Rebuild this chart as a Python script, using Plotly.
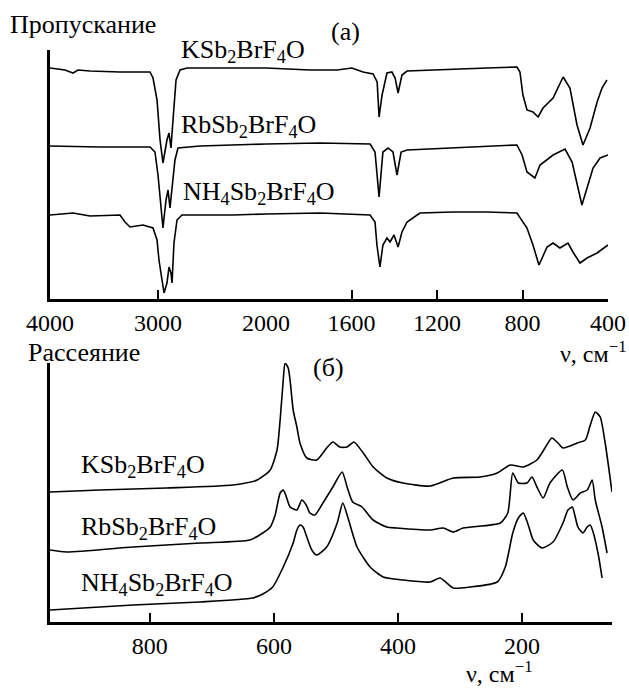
import plotly.graph_objects as go

# ---------- IR (transmission) spectra, panel (a) ----------
ir_k_wn = [4000, 3861, 3787, 3741, 3630, 3352, 3074, 3046, 3009, 2981, 2954, 2917, 2898, 2880, 2861, 2833, 2796, 2731, 2333, 2000,
           1794, 1668, 1598, 1546, 1499, 1480, 1471, 1457, 1434, 1411, 1396, 1382, 1364, 1340, 1125, 966, 826, 812, 798, 779,
           751, 727, 704, 657, 610, 578, 545, 517, 484, 451, 428, 405]
ir_k_t = [231, 229, 226, 229, 228, 227, 227, 221, 199, 159, 136, 159, 166, 151, 179, 219, 229, 231, 231, 231,
          229, 229, 231, 227, 225, 217, 182, 204, 226, 227, 221, 206, 224, 228, 230, 231, 232, 227, 204, 189,
          187, 182, 191, 201, 222, 211, 174, 154, 171, 197, 211, 219]

ir_rb_wn = [4000, 3537, 3074, 3028, 3000, 2972, 2954, 2926, 2907, 2889, 2870, 2843, 2815, 2611, 2000,
            1747, 1513, 1490, 1471, 1453, 1429, 1406, 1387, 1368, 1340, 1125, 966, 826, 802, 779, 742, 718,
            657, 601, 568, 545, 522, 498, 470, 437, 400]
ir_rb_t = [153, 152, 152, 147, 124, 94, 71, 99, 109, 91, 109, 139, 151, 153, 155,
           156, 155, 147, 102, 147, 151, 147, 124, 147, 149, 151, 152, 154, 144, 127, 121, 134,
           144, 150, 137, 114, 94, 111, 131, 141, 144]

ir_nh4_wn = [4000, 3787, 3630, 3352, 3306, 3259, 3139, 3046, 3009, 2991, 2963, 2944, 2917, 2898, 2880, 2870, 2852, 2824, 2778, 2306, 2000,
             1747, 1513, 1490, 1481, 1467, 1453, 1434, 1420, 1401, 1382, 1364, 1340, 1280, 1125, 966, 826, 779, 751, 723,
             685, 657, 625, 587, 564, 531, 498, 451, 400]
ir_nh4_t = [84, 86, 83, 84, 77, 72, 74, 71, 59, 39, 19, 6, 16, 32, 26, 16, 56, 79, 84, 84, 85,
            86, 84, 77, 54, 32, 54, 61, 57, 64, 52, 67, 77, 86, 87, 87, 86, 71, 54, 34,
            52, 56, 51, 56, 47, 36, 41, 46, 54]

ir_ticks_left = [4000, 3000, 2000]
ir_ticks_right = [1600, 1200, 800, 400]

# ---------- Raman (scattering) spectra, panel (б) ----------
ra_k_wn = [961, 881, 773, 666, 627, 606, 595, 590, 585, 582, 577, 574, 569, 563, 558, 547, 531, 515, 505, 494, 482, 471,
           456, 440, 418, 392, 348, 311, 268, 240, 219, 198, 176, 163, 152, 142, 134, 111, 98, 90, 82, 74, 66, 55]
ra_k_i = [130, 132, 134, 137, 142, 152, 172, 202, 242, 259, 254, 242, 212, 195, 179, 164, 162, 174, 180, 175, 175, 180,
          169, 155, 144, 139, 136, 144, 145, 149, 157, 155, 162, 174, 184, 179, 174, 179, 182, 197, 210, 205, 179, 130]

ra_rb_wn = [961, 934, 827, 719, 639, 618, 606, 598, 590, 585, 581, 574, 563, 555, 548, 542, 534, 521, 505, 490, 482, 473,
            458, 440, 418, 402, 348, 327, 311, 295, 235, 223, 215, 206, 192, 184, 176, 166, 155, 135, 127, 118, 106, 95,
            87, 82, 71, 63]
ra_rb_i = [72, 70, 75, 79, 82, 89, 95, 107, 129, 132, 127, 115, 112, 122, 117, 109, 107, 119, 135, 150, 135, 120,
           115, 102, 95, 94, 92, 94, 90, 94, 99, 109, 149, 139, 139, 145, 135, 124, 139, 152, 135, 122, 129, 132,
           142, 122, 95, 69]

ra_nh4_wn = [961, 827, 719, 634, 618, 602, 585, 569, 563, 558, 553, 547, 539, 531, 515, 498, 489, 481, 466, 445, 424,
             392, 348, 332, 311, 284, 240, 227, 215, 206, 198, 190, 182, 168, 150, 134, 126, 119, 115, 110, 102, 95,
             90, 85, 77, 71]
ra_nh4_i = [12, 17, 20, 24, 28, 35, 55, 79, 92, 97, 95, 85, 72, 67, 75, 99, 119, 105, 75, 55, 45,
            42, 40, 44, 34, 35, 40, 55, 89, 104, 109, 97, 82, 74, 80, 99, 112, 115, 107, 95, 89, 95,
            97, 89, 67, 44]

ra_ticks = [800, 600, 400, 200]

W, H = 629, 688
SERIF = "Liberation Serif, Times New Roman, serif"
FS_TICK = 24
FS_NOTE = 26
ir_line = dict(color="black", width=1.6)
ra_line = dict(color="black", width=1.6, shape="spline", smoothing=0.6)


def px(x):
    return x / W


def py(y):
    return 1 - y / H


fig = go.Figure()

for wn, t in [(ir_k_wn, ir_k_t), (ir_rb_wn, ir_rb_t), (ir_nh4_wn, ir_nh4_t)]:
    lw = [(a, b) for a, b in zip(wn, t) if a >= 2000]
    rw = [(a, b) for a, b in zip(wn, t) if a <= 2000]
    fig.add_trace(go.Scatter(x=[a for a, _ in lw], y=[b for _, b in lw], mode="lines", line=ir_line,
                             xaxis="x", yaxis="y", showlegend=False, hoverinfo="skip"))
    fig.add_trace(go.Scatter(x=[a for a, _ in rw], y=[b for _, b in rw], mode="lines", line=ir_line,
                             xaxis="x2", yaxis="y", showlegend=False, hoverinfo="skip"))

for wn, inten in [(ra_k_wn, ra_k_i), (ra_rb_wn, ra_rb_i), (ra_nh4_wn, ra_nh4_i)]:
    fig.add_trace(go.Scatter(x=wn, y=inten, mode="lines", line=ra_line,
                             xaxis="x3", yaxis="y3", showlegend=False, hoverinfo="skip"))

axis_common = dict(showline=True, linecolor="black", linewidth=2.5, showgrid=False, zeroline=False,
                   ticks="inside", ticklen=9, tickwidth=2, tickcolor="black", automargin=False,
                   tickfont=dict(family=SERIF, size=FS_TICK, color="black"))

split = 266
fig.update_layout(
    width=W, height=H, autosize=False, margin=dict(l=0, r=0, t=0, b=0, pad=0),
    paper_bgcolor="white", plot_bgcolor="white",
    xaxis=dict(domain=[px(50), px(split)], range=[4000, 2000], anchor="y",
               tickvals=ir_ticks_left, ticktext=[str(v) for v in ir_ticks_left], **axis_common),
    xaxis2=dict(domain=[px(split), px(608)], range=[2000, 400], anchor="y",
                tickvals=ir_ticks_right, ticktext=[str(v) for v in ir_ticks_right], **axis_common),
    yaxis=dict(domain=[py(299), py(50)], range=[0, 249], anchor="x", showline=True, linecolor="black",
               linewidth=2.5, showgrid=False, zeroline=False, showticklabels=False, ticks="", automargin=False),
    xaxis3=dict(domain=[px(50), px(612)], range=[961, 55], anchor="y3",
                tickvals=ra_ticks, ticktext=[str(v) for v in ra_ticks], **axis_common),
    yaxis3=dict(domain=[py(622), py(363)], range=[0, 259], anchor="x3", showline=True, linecolor="black",
                linewidth=2.5, showgrid=False, zeroline=False, showticklabels=False, ticks="", automargin=False),
)


def note(text, x, y, xanchor="left", yanchor="middle", size=FS_NOTE):
    fig.add_annotation(text=text, x=px(x), y=py(y), xref="paper", yref="paper", xanchor=xanchor,
                       yanchor=yanchor, showarrow=False, font=dict(family=SERIF, size=size, color="black"))


note("Пропускание", 8, 25)
note("(а)", 345, 32, "center")
note("KSb<sub>2</sub>BrF<sub>4</sub>O", 179, 51)
note("RbSb<sub>2</sub>BrF<sub>4</sub>O", 179, 126)
note("NH<sub>4</sub>Sb<sub>2</sub>BrF<sub>4</sub>O", 181, 193)
note("ν, см<sup>−1</sup>", 629, 352, "right", size=24)

note("Рассеяние", 26, 352)
note("(б)", 328, 368, "center")
note("KSb<sub>2</sub>BrF<sub>4</sub>O", 79, 466)
note("RbSb<sub>2</sub>BrF<sub>4</sub>O", 79, 528)
note("NH<sub>4</sub>Sb<sub>2</sub>BrF<sub>4</sub>O", 79, 584)
note("ν, см<sup>−1</sup>", 499, 689, "center", "bottom", size=24)

fig.write_html(
    "out.html",
    config={"responsive": False, "displayModeBar": False},
    post_script="document.body.style.margin='0';document.body.style.overflow='hidden';",
)
